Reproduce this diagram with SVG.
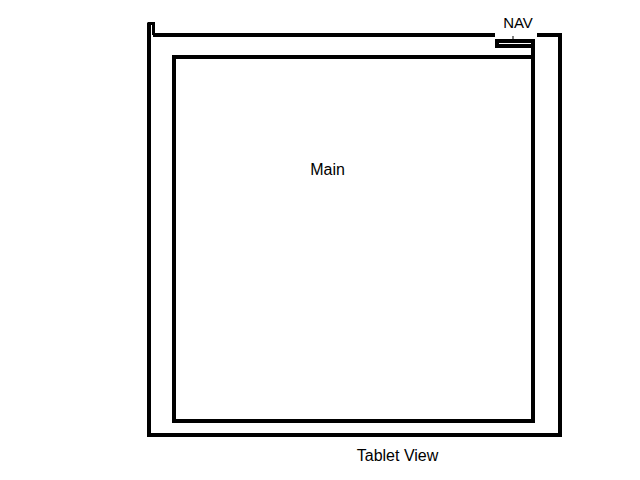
<svg xmlns="http://www.w3.org/2000/svg" width="640" height="480" viewBox="0 0 640 480">
<style>
.ln{fill:none;stroke:#000;stroke-width:4;stroke-linecap:butt}
.th{fill:none;stroke:#000;stroke-width:3}
.lbl{font-family:"Liberation Sans",Arial,sans-serif;font-size:16px;fill:#000}
</style>
<rect width="640" height="480" fill="#fff"/>
<g id="connectors"></g>
<g id="tablet-frame">
<path class="ln" d="M149 23 L149 435 L560 435 L560 35 L537 35"/>
<path class="ln" d="M153 35 L495 35"/>
<path class="th" d="M147.5 23.5 L153.5 23.5 L153.5 35"/>
</g>
<g id="nav">
<rect class="ln" x="497" y="41" width="36" height="5"/>
<line x1="513" y1="36" x2="513" y2="43" stroke="#000" stroke-width="1"/>
<text class="lbl" x="518" y="28" text-anchor="middle" style="font-size:15px">NAV</text>
</g>
<g id="main">
<rect class="ln" x="174" y="57" width="359" height="364"/>
<line class="ln" x1="533" y1="46" x2="533" y2="57"/>
<text class="lbl" x="327.5" y="175" text-anchor="middle">Main</text>
</g>
<g id="caption">
<text class="lbl" x="397.5" y="461" text-anchor="middle">Tablet View</text>
</g>
</svg>
